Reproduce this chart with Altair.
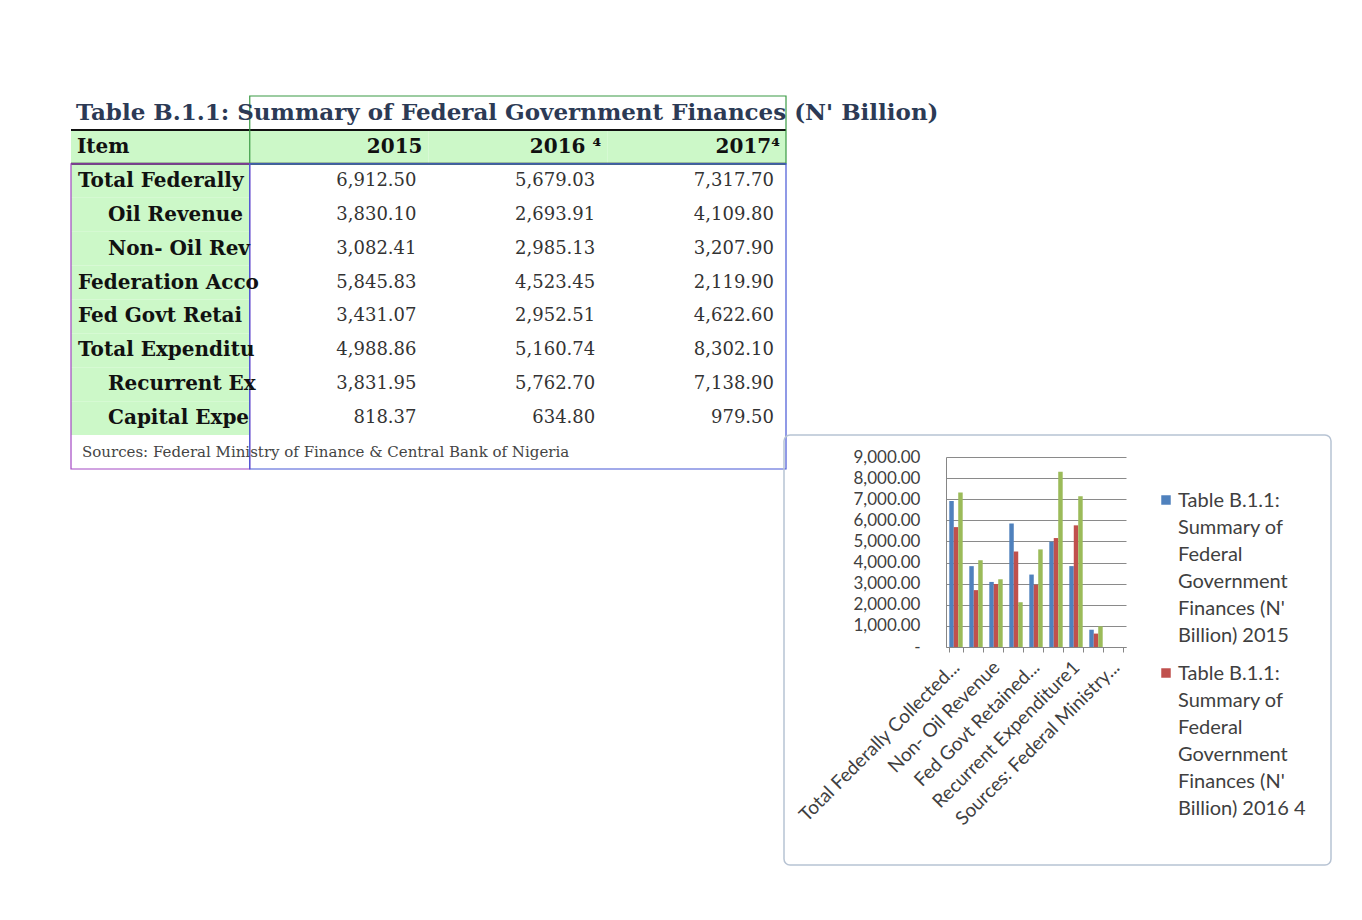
import altair as alt
import pandas as pd
import json

# ---------------- data ----------------
title_text = "Table B.1.1: Summary of Federal Government Finances (N' Billion)"
header_item = "Item"
years = ["2015", "2016", "2017"]
year_headers = ["2015", "2016 \u2074", "2017\u2074"]
items = [
    "Total Federally Collected Revenue",
    "Oil Revenue",
    "Non- Oil Revenue",
    "Federation Account",
    "Fed Govt  Retained Revenue",
    "Total Expenditure",
    "Recurrent Expenditure1",
    "Capital Expenditure",
]
sub_items = ["Oil Revenue", "Non- Oil Revenue", "Recurrent Expenditure1", "Capital Expenditure"]
source_note = "Sources:  Federal Ministry of Finance & Central Bank of Nigeria"
v2015 = [6912.50, 3830.10, 3082.41, 5845.83, 3431.07, 4988.86, 3831.95, 818.37]
v2016 = [5679.03, 2693.91, 2985.13, 4523.45, 2952.51, 5160.74, 5762.70, 634.80]
v2017 = [7317.70, 4109.80, 3207.90, 2119.90, 4622.60, 8302.10, 7138.90, 979.50]

categories = items + [source_note]
x_tick_labels = [
    "Total Federally Collected...", "", "Non- Oil Revenue", "",
    "Fed Govt  Retained...", "", "Recurrent Expenditure1", "",
    "Sources:  Federal Ministry...",
]
y_ticks = [0, 1000, 2000, 3000, 4000, 5000, 6000, 7000, 8000, 9000]
legend_years = ["2015", "2016"]
legend_lines = [
    ["Table B.1.1:", "Summary of", "Federal", "Government", "Finances (N'", "Billion) 2015"],
    ["Table B.1.1:", "Summary of", "Federal", "Government", "Finances (N'", "Billion) 2016 4"],
]
series_colors = ["#4F81BD", "#C0504D", "#9BBB59"]

table_cols = ["A", "B", "C", "D"]
table_rows = list(range(1, 12))
# chart source ranges highlighted in the sheet: series names, categories, values
ranges = pd.DataFrame({
    "kind": ["names", "cats", "vals"],
    "c1": ["B", "A", "B"], "c2": ["D", "A", "D"],
    "r1": [1, 3, 3], "r2": [2, 11, 11],
})
range_colors = ["#3a9a44", "#a448c4", "#4656d6"]

# ---------------- table (spreadsheet range A1:D11) ----------------
TW, TH = 715, 373
xs = alt.Scale(type="band", domain=table_cols, paddingInner=0, paddingOuter=0)
ys = alt.Scale(type="band", domain=table_rows, paddingInner=0, paddingOuter=0)
SERIF = "DejaVu Serif"

green_cells = pd.DataFrame(
    [{"col": "A", "row": r} for r in range(2, 11)]
    + [{"col": c, "row": 2} for c in table_cols[1:]]
)
green = alt.Chart(green_cells).mark_rect(color="#ccf8c8").encode(
    x=alt.X("col:N", scale=xs, axis=None),
    y=alt.Y("row:O", scale=ys, axis=None),
)

row2 = pd.DataFrame({"row": [2]})
rule_top = alt.Chart(row2).mark_rule(color="#111", strokeWidth=2).encode(
    y=alt.Y("row:O", scale=ys, axis=None, bandPosition=0),
    x=alt.value(0), x2=alt.value(TW),
)
rule_bot = alt.Chart(row2).mark_rule(color="#111", strokeWidth=2).encode(
    y=alt.Y("row:O", scale=ys, axis=None, bandPosition=1),
    x=alt.value(0), x2=alt.value(TW),
)

range_boxes = alt.Chart(ranges).mark_rect(fillOpacity=0, strokeWidth=1.2).encode(
    x=alt.X("c1:N", scale=xs, axis=None, bandPosition=0),
    x2=alt.X2("c2", bandPosition=1),
    y=alt.Y("r1:O", scale=ys, axis=None, bandPosition=0),
    y2=alt.Y2("r2", bandPosition=1),
    stroke=alt.Stroke("kind:N", scale=alt.Scale(domain=list(ranges["kind"]), range=range_colors), legend=None),
)

title_df = pd.DataFrame({"col": ["A"], "row": [1], "t": [title_text]})
title_mark = alt.Chart(title_df).mark_text(
    align="left", dx=5, font=SERIF, fontSize=23, fontWeight="bold", color="#2c3a55"
).encode(
    x=alt.X("col:N", scale=xs, axis=None, bandPosition=0),
    y=alt.Y("row:O", scale=ys, axis=None), text="t:N",
)

item_hdr_df = pd.DataFrame({"col": ["A"], "row": [2], "t": [header_item]})
item_hdr = alt.Chart(item_hdr_df).mark_text(
    align="left", dx=6, font=SERIF, fontSize=20, fontWeight="bold", color="#111"
).encode(
    x=alt.X("col:N", scale=xs, axis=None, bandPosition=0),
    y=alt.Y("row:O", scale=ys, axis=None), text="t:N",
)

year_hdr_df = pd.DataFrame({"col": table_cols[1:], "row": [2, 2, 2], "t": year_headers})
year_hdr = alt.Chart(year_hdr_df).mark_text(
    align="right", dx=-6, font=SERIF, fontSize=20, fontWeight="bold", color="#111"
).encode(
    x=alt.X("col:N", scale=xs, axis=None, bandPosition=1),
    y=alt.Y("row:O", scale=ys, axis=None), text="t:N",
)

items_df = pd.DataFrame({"col": "A", "row": list(range(3, 3 + len(items))), "t": items})
items_df["sub"] = items_df["t"].isin(sub_items)
main_items = alt.Chart(items_df).transform_filter("!datum.sub").mark_text(
    align="left", dx=7, font=SERIF, fontSize=20, fontWeight="bold", color="#111",
    limit=190, ellipsis=" "
).encode(
    x=alt.X("col:N", scale=xs, axis=None, bandPosition=0),
    y=alt.Y("row:O", scale=ys, axis=None), text="t:N",
)
sub_items_mark = alt.Chart(items_df).transform_filter("datum.sub").mark_text(
    align="left", dx=37, font=SERIF, fontSize=20, fontWeight="bold", color="#111",
    limit=160, ellipsis=" "
).encode(
    x=alt.X("col:N", scale=xs, axis=None, bandPosition=0),
    y=alt.Y("row:O", scale=ys, axis=None), text="t:N",
)

num_records = []
for col, vals in zip(table_cols[1:], [v2015, v2016, v2017]):
    for i, v in enumerate(vals):
        num_records.append({"col": col, "row": 3 + i, "v": v})
nums_df = pd.DataFrame(num_records)
nums = alt.Chart(nums_df).mark_text(
    align="right", dx=-12, font=SERIF, fontSize=18, color="#333"
).encode(
    x=alt.X("col:N", scale=xs, axis=None, bandPosition=1),
    y=alt.Y("row:O", scale=ys, axis=None),
    text=alt.Text("v:Q", format=",.2f"),
)

src_df = pd.DataFrame({"col": ["A"], "row": [11], "t": [source_note]})
src = alt.Chart(src_df).mark_text(
    align="left", dx=11, font=SERIF, fontSize=15, color="#444"
).encode(
    x=alt.X("col:N", scale=xs, axis=None, bandPosition=0),
    y=alt.Y("row:O", scale=ys, axis=None), text="t:N",
)

table = alt.layer(
    green, rule_top, rule_bot, range_boxes, title_mark, item_hdr, year_hdr,
    main_items, sub_items_mark, nums, src
).properties(width=TW, height=TH)

# ---------------- embedded bar chart ----------------
PW, PH = 180, 190
FONT = "Lato"
recs = []
for y, vals in zip(years, [v2015, v2016, v2017]):
    for c, v in zip(items, vals):
        recs.append({"category": c, "year": y, "value": v})
bars_df = pd.DataFrame(recs)

color_scale = alt.Scale(domain=years, range=series_colors)
label_expr = "{}[indexof({}, datum.value)]".format(json.dumps(x_tick_labels), json.dumps(categories))

box = alt.Chart(pd.DataFrame({"z": [0]})).mark_rect(
    fillOpacity=0, stroke="#b7c3d3", strokeWidth=1.5, cornerRadius=6
).encode(x=alt.value(-162), x2=alt.value(385), y=alt.value(-22), y2=alt.value(408))

bars = alt.Chart(bars_df).mark_bar().encode(
    x=alt.X(
        "category:N",
        scale=alt.Scale(domain=categories, paddingInner=0.33, paddingOuter=0.165),
        sort=categories,
        axis=alt.Axis(
            title=None, labelExpr=label_expr, labelAngle=315, labelAlign="right",
            labelBaseline="middle", labelPadding=12, labelFont=FONT, labelFontSize=19,
            labelColor="#404040", labelLimit=400, labelOverlap=False,
            tickBand="extent", ticks=True, tickSize=5, tickColor="#868686",
            domainColor="#868686", grid=False,
        ),
    ),
    xOffset=alt.XOffset("year:N", scale=alt.Scale(domain=years, paddingInner=0, paddingOuter=0)),
    y=alt.Y(
        "value:Q",
        scale=alt.Scale(domain=[0, 9000], nice=False),
        axis=alt.Axis(
            title=None, values=y_ticks,
            labelExpr="datum.value == 0 ? '-' : format(datum.value, ',.2f')",
            labelFont=FONT, labelFontSize=17, labelColor="#404040", labelPadding=26,
            ticks=False, grid=True, gridColor="#8a8a8a", domainColor="#868686",
        ),
    ),
    color=alt.Color("year:N", scale=color_scale, legend=None),
)

legend_layers = []
for i, (yr, lines) in enumerate(zip(legend_years, legend_lines)):
    top = 43 + i * 173
    d = pd.DataFrame({"year": [yr]})
    legend_layers.append(
        alt.Chart(d).mark_square(size=90, opacity=1).encode(
            x=alt.value(220), y=alt.value(top),
            color=alt.Color("year:N", scale=color_scale, legend=None),
        )
    )
    legend_layers.append(
        alt.Chart(d).mark_text(
            align="left", baseline="middle", font=FONT, fontSize=20,
            color="#404040", lineHeight=27
        ).encode(x=alt.value(232), y=alt.value(top + 1), text=alt.value(lines))
    )

chart_box = alt.layer(box, bars, *legend_layers).properties(width=PW, height=PH)


def spacer(w, h):
    return alt.Chart(pd.DataFrame({"z": [0]})).mark_point(opacity=0).encode(
        x=alt.value(0), y=alt.value(0)
    ).properties(width=w, height=h)


right = alt.vconcat(
    spacer(10, 361),
    alt.hconcat(spacer(160, 10), chart_box, spacing=0, bounds="flush"),
    spacing=0, bounds="flush",
)

chart = alt.hconcat(table, right, spacing=0, bounds="flush").properties(
    padding={"left": 62, "top": 85, "right": 5, "bottom": 5}
).configure_view(stroke=None)

chart.save("out.html", embed_options={"renderer": "svg", "actions": False})
